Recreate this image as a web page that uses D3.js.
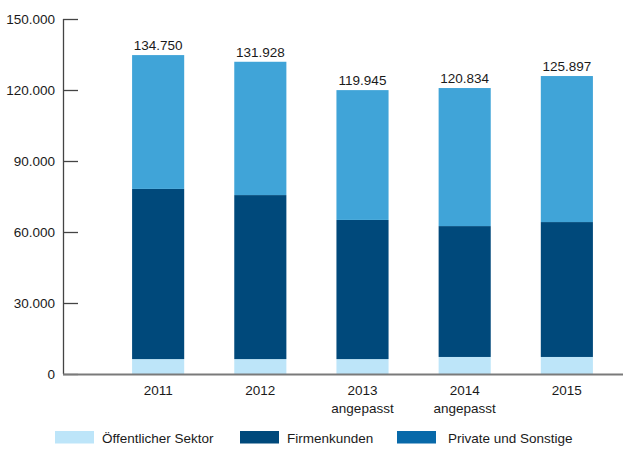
<!DOCTYPE html>
<html>
<head>
<meta charset="utf-8">
<script src="https://cdn.jsdelivr.net/npm/d3@7"></script>
<style>
  body { margin: 0; background: #fff; }
  svg { display: block; font-family: "Liberation Sans", Arial, sans-serif; }
</style>
</head>
<body>
<svg width="623" height="449"></svg>
<script>
// Data set
var years = ["2011", "2012", "2013", "2014", "2015"];
var yearNotes = ["", "", "angepasst", "angepasst", ""];
var oeffentlich = [6300, 6300, 6300, 7200, 7200];
var firmen = [71900, 69300, 58800, 55300, 57000];
var privat = [56550, 56330, 54850, 58330, 61700];
var totals = [134750, 131928, 119945, 120834, 125897];
var yTicks = [0, 30000, 60000, 90000, 120000, 150000];

var seriesNames = ["Öffentlicher Sektor", "Firmenkunden", "Private und Sonstige"];
var barColors = ["#bde5f9", "#00497b", "#40a4d8"];
var legendColors = ["#bde5f9", "#00497b", "#0869a9"];

var de = d3.formatLocale({decimal: ",", thousands: ".", grouping: [3], currency: ["", " €"]});
var fmt = de.format(",");
var fontSize = "13.5px";

var svg = d3.select("svg");

var rows = years.map(function(y, i) {
  return {year: y, s0: oeffentlich[i], s1: firmen[i], s2: privat[i], total: totals[i], note: yearNotes[i]};
});

var stack = d3.stack().keys(["s0", "s1", "s2"]);
var layers = stack(rows);

var x = d3.scaleBand()
  .domain(years)
  .range([81, 644])
  .paddingInner(0.49)
  .paddingOuter(0.5);

var y = d3.scaleLinear()
  .domain([0, 150000])
  .range([374, 19]);

// bars
svg.selectAll("g.layer")
  .data(layers)
  .enter()
  .append("g")
  .attr("class", "layer")
  .attr("fill", function(d, i) { return barColors[i]; })
  .selectAll("rect")
  .data(function(d) { return d; })
  .enter()
  .append("rect")
  .attr("x", function(d) { return x(d.data.year); })
  .attr("width", x.bandwidth())
  .attr("y", function(d) { return y(d[1]); })
  .attr("height", function(d) { return y(d[0]) - y(d[1]); });

// totals on top
svg.selectAll("text.total")
  .data(rows)
  .enter()
  .append("text")
  .attr("class", "total")
  .attr("x", function(d) { return x(d.year) + x.bandwidth() / 2; })
  .attr("y", function(d) { return y(d.total) - 5; })
  .attr("text-anchor", "middle")
  .attr("font-size", fontSize)
  .attr("fill", "#1a1a1a")
  .text(function(d) { return fmt(d.total); });

// y axis
var yAxis = d3.axisRight(y)
  .tickValues(yTicks)
  .tickSize(15)
  .tickFormat("");

var gy = svg.append("g")
  .attr("transform", "translate(63,0)")
  .call(yAxis);
gy.select(".domain").attr("stroke", "#444").attr("stroke-width", 1.3).attr("d", "M0.5,19V374");
gy.selectAll(".tick line").attr("stroke", "#444").attr("stroke-width", 1.3);

svg.selectAll("text.ytick")
  .data(yTicks)
  .enter()
  .append("text")
  .attr("class", "ytick")
  .attr("x", 55)
  .attr("y", function(d) { return y(d); })
  .attr("dy", "0.35em")
  .attr("text-anchor", "end")
  .attr("font-size", fontSize)
  .attr("fill", "#1a1a1a")
  .text(function(d) { return fmt(d); });

// baseline
svg.append("line")
  .attr("x1", 63).attr("x2", 623)
  .attr("y1", y(0) + 0.5).attr("y2", y(0) + 0.5)
  .attr("stroke", "#7a7a7a")
  .attr("stroke-width", 2);

// x labels
var xl = svg.selectAll("g.xlab")
  .data(rows)
  .enter()
  .append("g")
  .attr("class", "xlab")
  .attr("transform", function(d) { return "translate(" + (x(d.year) + x.bandwidth() / 2) + ",0)"; });
xl.append("text")
  .attr("y", 395)
  .attr("text-anchor", "middle")
  .attr("font-size", fontSize)
  .attr("fill", "#1a1a1a")
  .text(function(d) { return d.year; });
xl.append("text")
  .attr("y", 412.5)
  .attr("text-anchor", "middle")
  .attr("font-size", fontSize)
  .attr("fill", "#1a1a1a")
  .text(function(d) { return d.note; });

// legend
var legendX = [55, 240, 397];
var legendTextX = [102, 287, 448];
var lg = svg.selectAll("g.legend")
  .data(seriesNames)
  .enter()
  .append("g")
  .attr("class", "legend");
lg.append("rect")
  .attr("x", function(d, i) { return legendX[i]; })
  .attr("y", 431)
  .attr("width", 39)
  .attr("height", 12.5)
  .attr("fill", function(d, i) { return legendColors[i]; });
lg.append("text")
  .attr("x", function(d, i) { return legendTextX[i]; })
  .attr("y", 442.5)
  .attr("font-size", fontSize)
  .attr("fill", "#1a1a1a")
  .text(function(d) { return d; });
</script>
</body>
</html>
